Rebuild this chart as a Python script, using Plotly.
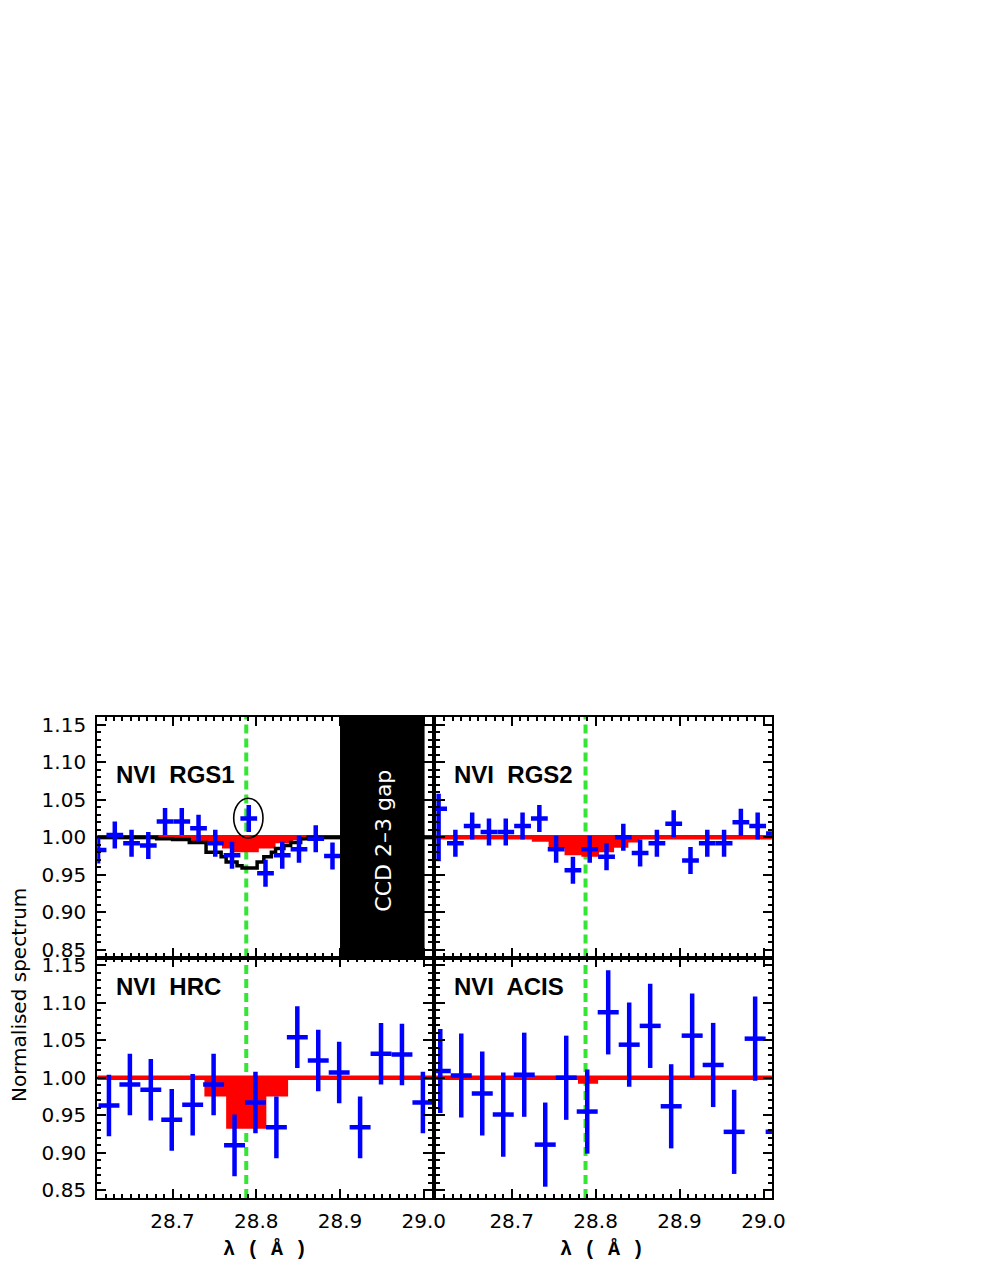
import plotly.graph_objects as go
from plotly.subplots import make_subplots

W, H = 981, 1269
XMIN, XMAX = 28.61, 29.01
YMIN, YMAX = 0.84, 1.16
LINE_X = 28.788  # N VI rest wavelength

# ---- RGS1 ----
rgs1_wave = [28.611, 28.631, 28.651, 28.671, 28.691, 28.711, 28.731, 28.751,
             28.771, 28.791, 28.811, 28.831, 28.851, 28.871, 28.891]
rgs1_flux = [0.983, 1.003, 0.992, 0.989, 1.021, 1.021, 1.012, 0.992,
             0.976, 1.025, 0.952, 0.976, 0.984, 0.998, 0.975]
rgs1_err = [0.018] * len(rgs1_wave)
# red model (step edges + levels between them)
rgs1_model_edges = [28.685, 28.720, 28.740, 28.759, 28.771, 28.803, 28.823, 28.844, 28.858, 28.901]
rgs1_model_level = [0.998, 0.995, 0.992, 0.985, 0.980, 0.985, 0.992, 0.996, 0.998]
# black instrument profile
rgs1_inst_edges = [28.681, 28.700, 28.720, 28.740, 28.758, 28.764, 28.777, 28.783,
                   28.801, 28.809, 28.818, 28.823, 28.833, 28.841, 28.853, 28.862]
rgs1_inst_level = [0.998, 0.997, 0.993, 0.980, 0.974, 0.967, 0.962, 0.959,
                   0.967, 0.974, 0.980, 0.985, 0.989, 0.993, 0.998]

# ---- RGS2 ----
rgs2_wave = [28.613, 28.633, 28.653, 28.673, 28.693, 28.713, 28.733, 28.753, 28.773, 28.793,
             28.813, 28.833, 28.853, 28.873, 28.893, 28.913, 28.933, 28.953, 28.973, 28.993, 29.013]
rgs2_flux = [1.038, 0.992, 1.015, 1.007, 1.007, 1.015, 1.025, 0.984, 0.956, 0.984,
             0.974, 1.000, 0.979, 0.992, 1.018, 0.969, 0.992, 0.992, 1.020, 1.015, 1.005]
rgs2_err_hi = [0.020] + [0.018] * 20
rgs2_err_lo = [0.070] + [0.018] * 20
rgs2_model_edges = [28.724, 28.744, 28.763, 28.783, 28.804, 28.822, 28.839, 28.852]
rgs2_model_level = [0.994, 0.985, 0.976, 0.974, 0.980, 0.986, 0.993]

# ---- HRC ----
hrc_wave = [28.624, 28.649, 28.674, 28.699, 28.724, 28.749, 28.774, 28.799,
            28.824, 28.849, 28.874, 28.899, 28.924, 28.949, 28.974, 28.999]
hrc_flux = [0.963, 0.991, 0.984, 0.944, 0.964, 0.991, 0.910, 0.967,
            0.934, 1.054, 1.023, 1.007, 0.934, 1.032, 1.031, 0.967]
hrc_err = [0.041] * len(hrc_wave)
hrc_model_edges = [28.738, 28.764, 28.812, 28.838]
hrc_model_level = [0.975, 0.932, 0.975]

# ---- ACIS ----
acis_wave = [28.615, 28.640, 28.665, 28.690, 28.715, 28.740, 28.765, 28.790, 28.815,
             28.840, 28.865, 28.890, 28.915, 28.940, 28.965, 28.990, 29.015]
acis_flux = [1.009, 1.003, 0.979, 0.951, 1.004, 0.911, 1.000, 0.955, 1.087,
             1.044, 1.069, 0.962, 1.056, 1.017, 0.928, 1.052, 0.928]
acis_err = [0.056] * len(acis_wave)
acis_model_edges = [28.779, 28.803]
acis_model_level = [0.992]

BLUE = "#0000ff"
RED = "#ff0000"
GREEN = "#33e633"
FONT = "DejaVu Sans"


# screen pixel -> paper fraction (page shows the div slightly shifted)
def fx(px):
    return ((px - 6.2) / 0.992) / W


def fy(py):
    return 1 - (py - 5.5) / H


def step_xy(edges, levels):
    xs = [XMIN] + list(edges) + [XMAX]
    ys = [1.0] + list(levels) + [1.0, 1.0]
    return xs, ys


fig = make_subplots(rows=2, cols=2)

panels = [
    # row, col, wave, flux, err_hi, err_lo, xbin, edges, levels, label
    (1, 1, rgs1_wave, rgs1_flux, rgs1_err, rgs1_err, 0.01, rgs1_model_edges, rgs1_model_level, "NVI\u00a0 RGS1"),
    (1, 2, rgs2_wave, rgs2_flux, rgs2_err_hi, rgs2_err_lo, 0.01, rgs2_model_edges, rgs2_model_level, "NVI\u00a0 RGS2"),
    (2, 1, hrc_wave, hrc_flux, hrc_err, hrc_err, 0.0125, hrc_model_edges, hrc_model_level, "NVI\u00a0 HRC"),
    (2, 2, acis_wave, acis_flux, acis_err, acis_err, 0.0125, acis_model_edges, acis_model_level, "NVI\u00a0 ACIS"),
]

for r, c, wave, flux, ehi, elo, xbin, edges, levels, label in panels:
    mx, my = step_xy(edges, levels)
    fig.add_trace(go.Scatter(x=mx, y=my, mode="lines", line=dict(width=0, shape="hv"),
                             fill="toself", fillcolor=RED, hoverinfo="skip"), row=r, col=c)
    fig.add_trace(go.Scatter(x=[XMIN, XMAX], y=[1.0, 1.0], mode="lines",
                             line=dict(color=RED, width=4.5)), row=r, col=c)
    if r == 1 and c == 1:
        ix, iy = step_xy(rgs1_inst_edges, rgs1_inst_level)
        fig.add_trace(go.Scatter(x=ix, y=iy, mode="lines",
                                 line=dict(color="black", width=3.5, shape="hv")), row=r, col=c)
    fig.add_trace(go.Scatter(
        x=wave, y=flux, mode="markers",
        marker=dict(size=1, color=BLUE),
        error_x=dict(type="constant", value=xbin, thickness=4.5, width=0, color=BLUE),
        error_y=dict(type="data", array=ehi, arrayminus=elo, symmetric=False,
                     thickness=4.5, width=0, color=BLUE),
    ), row=r, col=c)

# domains from pixel positions
xl = [fx(96), fx(433)]
xr = [fx(437), fx(775)]
yt = [fy(957), fy(715)]
yb = [fy(1199), fy(957)]

axis_common = dict(
    showline=True, linewidth=2.2, linecolor="black", mirror="allticks",
    ticks="inside", ticklen=9, tickwidth=2, tickcolor="black",
    showgrid=False, zeroline=False,
    tickfont=dict(family=FONT, size=20, color="black"),
)
xax = dict(axis_common, range=[XMIN, XMAX], tickvals=[28.7, 28.8, 28.9, 29.0],
           tickformat=".1f", ticklabelstandoff=4,
           minor=dict(ticks="inside", ticklen=4, tickwidth=1.5, tickcolor="black", dtick=0.01,
                      tick0=28.6, showgrid=False))
yax = dict(axis_common, range=[YMIN, YMAX], tickvals=[0.85, 0.90, 0.95, 1.00, 1.05, 1.10, 1.15],
           tickformat=".2f", ticklabelstandoff=5,
           minor=dict(ticks="inside", ticklen=4, tickwidth=1.5, tickcolor="black", dtick=0.01,
                      tick0=0.84, showgrid=False))

fig.update_layout(
    xaxis=dict(xax, domain=xl, showticklabels=False, anchor="y"),
    yaxis=dict(yax, domain=yt, anchor="x"),
    xaxis2=dict(xax, domain=xr, showticklabels=False, anchor="y2"),
    yaxis2=dict(yax, domain=yt, showticklabels=False, anchor="x2"),
    xaxis3=dict(xax, domain=xl, anchor="y3"),
    yaxis3=dict(yax, domain=yb, anchor="x3"),
    xaxis4=dict(xax, domain=xr, anchor="y4"),
    yaxis4=dict(yax, domain=yb, showticklabels=False, anchor="x4"),
)

shapes = []
for xr_, yr_ in [("x", "y"), ("x2", "y2"), ("x3", "y3"), ("x4", "y4")]:
    shapes.append(dict(type="line", xref=xr_, yref=yr_ + " domain", x0=LINE_X, x1=LINE_X,
                       y0=0, y1=1, line=dict(color=GREEN, width=4, dash="9px,5px"), layer="below"))
# CCD gap
shapes.append(dict(type="rect", xref="x", yref="y domain", x0=28.9, x1=29.001, y0=0, y1=1.008,
                   fillcolor="black", line=dict(width=0), layer="above"))
# circled point
shapes.append(dict(type="circle", xref="x", yref="y", x0=28.773, x1=28.808, y0=0.999, y1=1.052,
                   line=dict(color="black", width=1.6), layer="above"))

annotations = [
    dict(x=28.951, y=0.995, xref="x", yref="y", text="CCD 2\u20133 gap", textangle=-90,
         xanchor="center", yanchor="middle", showarrow=False,
         font=dict(family=FONT, size=22, color="white")),
    dict(x=fx(18), y=fy(995), xref="paper", yref="paper", text="Normalised spectrum",
         textangle=-90, xanchor="center", yanchor="middle", showarrow=False,
         font=dict(family=FONT, size=20, color="black")),
]
for cx in (265, 604):
    annotations.append(dict(x=fx(cx), y=fy(1250), xref="paper", yref="paper",
                            text="<b>\u03bb ( \u00c5 )</b>", xanchor="center", yanchor="middle",
                            showarrow=False,
                            font=dict(family="Liberation Mono", size=20, color="black")))
label_pos = [(113, 773), (453, 773), (113, 986), (453, 986)]
for (px, py), p in zip(label_pos, panels):
    annotations.append(dict(x=fx(px), y=fy(py), xref="paper", yref="paper", text="<b>" + p[9] + "</b>",
                            xanchor="left", yanchor="middle", showarrow=False,
                            font=dict(family="Liberation Sans", size=24, color="black")))

fig.update_layout(
    width=W, height=H, margin=dict(l=0, r=0, t=0, b=0),
    paper_bgcolor="white", plot_bgcolor="white", showlegend=False,
    shapes=shapes, annotations=annotations,
)

fig.write_html("out.html")
